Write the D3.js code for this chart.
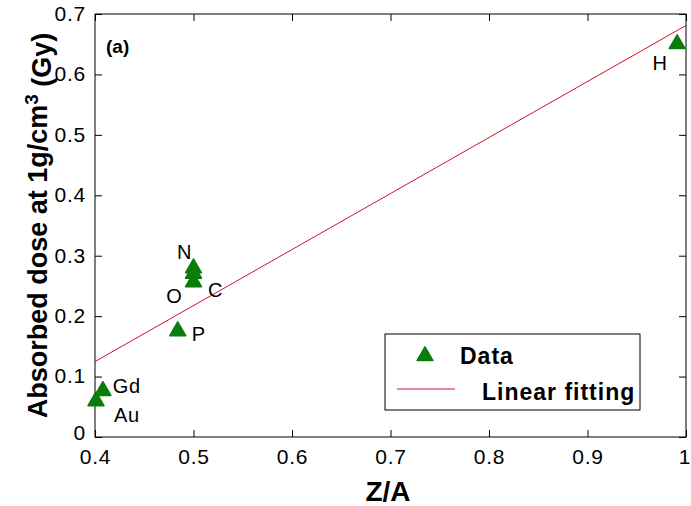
<!DOCTYPE html>
<html>
<head>
<meta charset="utf-8">
<script src="https://cdn.jsdelivr.net/npm/d3@7"></script>
<style>
  html, body { margin: 0; padding: 0; background: #fff; }
  svg { display: block; font-family: "Liberation Sans", Arial, sans-serif; }
</style>
</head>
<body>
<svg id="chart" width="691" height="506"></svg>
<script>
// Absorbed dose vs. electron density ratio Z/A for several elements
const elements = ["H", "N", "O", "C", "P", "Gd", "Au"];
const zOverA   = [0.991, 0.500, 0.500, 0.500, 0.484, 0.408, 0.401];
const dose     = [0.652, 0.281, 0.272, 0.258, 0.177, 0.078, 0.061];

// Linear fit: dose = slope * (Z/A) + intercept
const fitSlope = 0.927;
const fitIntercept = -0.246;
const fitRange = [0.4, 1.0];

const xTicks = [0.4, 0.5, 0.6, 0.7, 0.8, 0.9, 1];
const yTicks = [0, 0.1, 0.2, 0.3, 0.4, 0.5, 0.6, 0.7];
const xTickLabels = ["0.4", "0.5", "0.6", "0.7", "0.8", "0.9", "1"];
const yTickLabels = ["0", "0.1", "0.2", "0.3", "0.4", "0.5", "0.6", "0.7"];

// label offsets per element (dx, dy in px from the marker)
const labelOffsets = {
  H: [-17, 20], N: [-9, -15], O: [-19, 23], C: [22, 9],
  P: [21, 4], Gd: [24, -4], Au: [31, 15]
};

const svg = d3.select("#chart");
const m = { left: 95, right: 686, top: 14, bottom: 437 };

const x = d3.scaleLinear().domain([0.4, 1]).range([m.left, m.right]);
const y = d3.scaleLinear().domain([0, 0.7]).range([m.bottom, m.top]);

const green = "#0a7d0a";
const red = "#d0102a";
const tickLen = 7;

// Axes with inward ticks on all four sides
const g = svg.append("g");
const axisStyle = sel => {
  sel.select(".domain").remove();
  sel.selectAll("line").attr("stroke", "#000").attr("stroke-width", 1);
  sel.selectAll("text").attr("fill", "#000").style("font-size", "21px")
    .style("letter-spacing", "0.8px");
};

const xAxisG = g.append("g")
  .attr("transform", `translate(0,${m.bottom})`)
  .call(d3.axisBottom(x).tickValues(xTicks).tickSizeInner(-tickLen).tickSizeOuter(0)
        .tickPadding(12).tickFormat((d, i) => xTickLabels[i]))
  .call(axisStyle);
xAxisG.selectAll("text").attr("dy", "0.71em");
// keep the last label inside the canvas edge
xAxisG.selectAll("text").filter(d => d === 1)
  .attr("text-anchor", "end").attr("x", 4).style("letter-spacing", "0px");

const yAxisG = g.append("g")
  .attr("transform", `translate(${m.left},0)`)
  .call(d3.axisLeft(y).tickValues(yTicks).tickSizeInner(-tickLen).tickSizeOuter(0)
        .tickPadding(9).tickFormat((d, i) => yTickLabels[i]))
  .call(axisStyle);
yAxisG.selectAll("text").attr("dy", "0.3em");
yAxisG.selectAll("text").filter(d => d === 0).attr("dy", "0.12em");

g.append("g")
  .attr("transform", `translate(0,${m.top})`)
  .call(d3.axisTop(x).tickValues(xTicks).tickSizeInner(-tickLen).tickSizeOuter(0).tickFormat(""))
  .call(axisStyle);

g.append("g")
  .attr("transform", `translate(${m.right},0)`)
  .call(d3.axisRight(y).tickValues(yTicks).tickSizeInner(-tickLen).tickSizeOuter(0).tickFormat(""))
  .call(axisStyle);

// frame
svg.append("rect")
  .attr("x", m.left).attr("y", m.top)
  .attr("width", m.right - m.left).attr("height", m.bottom - m.top)
  .attr("fill", "none").attr("stroke", "#000").attr("stroke-width", 1);

// fitted line
svg.append("line")
  .attr("x1", x(fitRange[0])).attr("y1", y(fitSlope * fitRange[0] + fitIntercept))
  .attr("x2", x(fitRange[1])).attr("y2", y(fitSlope * fitRange[1] + fitIntercept))
  .attr("stroke", red).attr("stroke-width", 1);

// triangle markers
const tri = d3.symbol().type(d3.symbolTriangle).size(110);
svg.append("g").selectAll("path")
  .data(elements)
  .join("path")
  .attr("d", tri)
  .attr("transform", (d, i) => `translate(${x(zOverA[i])},${y(dose[i]) + 1})`)
  .attr("fill", green).attr("stroke", green).attr("stroke-width", 1.5)
  .attr("stroke-linejoin", "round");

// element labels
svg.append("g").selectAll("text")
  .data(elements)
  .join("text")
  .attr("x", (d, i) => x(zOverA[i]) + labelOffsets[d][0])
  .attr("y", (d, i) => y(dose[i]) + labelOffsets[d][1])
  .attr("text-anchor", "middle")
  .attr("dominant-baseline", "central")
  .style("font-size", "20px").style("letter-spacing", "0.8px")
  .text(d => d);

// panel tag
svg.append("text")
  .attr("x", 106).attr("y", 53)
  .style("font-size", "19px").style("font-weight", "bold")
  .text("(a)");

// axis titles
svg.append("text")
  .attr("x", 388).attr("y", 501)
  .attr("text-anchor", "middle")
  .style("font-size", "28px").style("font-weight", "bold")
  .text("Z/A");

const yt = svg.append("text")
  .attr("transform", `translate(47,${(m.top + m.bottom) / 2}) rotate(-90)`)
  .attr("text-anchor", "middle")
  .style("font-size", "27px").style("font-weight", "bold");
yt.append("tspan").text("Absorbed dose at 1g/cm");
yt.append("tspan").attr("dy", "-0.45em").style("font-size", "19px").text("3");
yt.append("tspan").attr("dy", "0.45em").text(" (Gy)");

// legend
const lg = svg.append("g");
lg.append("rect")
  .attr("x", 385).attr("y", 334).attr("width", 255).attr("height", 76)
  .attr("fill", "#fff").attr("stroke", "#000").attr("stroke-width", 1);
lg.append("path")
  .attr("d", tri)
  .attr("transform", "translate(425,356)")
  .attr("fill", green).attr("stroke", green).attr("stroke-width", 1.5)
  .attr("stroke-linejoin", "round");
lg.append("text")
  .attr("x", 460).attr("y", 364)
  .style("font-size", "23px").style("font-weight", "bold").style("letter-spacing", "1px")
  .text("Data");
lg.append("line")
  .attr("x1", 397).attr("x2", 455).attr("y1", 389).attr("y2", 389)
  .attr("stroke", red).attr("stroke-width", 1);
lg.append("text")
  .attr("x", 482).attr("y", 400)
  .style("font-size", "23px").style("font-weight", "bold").style("letter-spacing", "1px")
  .text("Linear fitting");
</script>
</body>
</html>
